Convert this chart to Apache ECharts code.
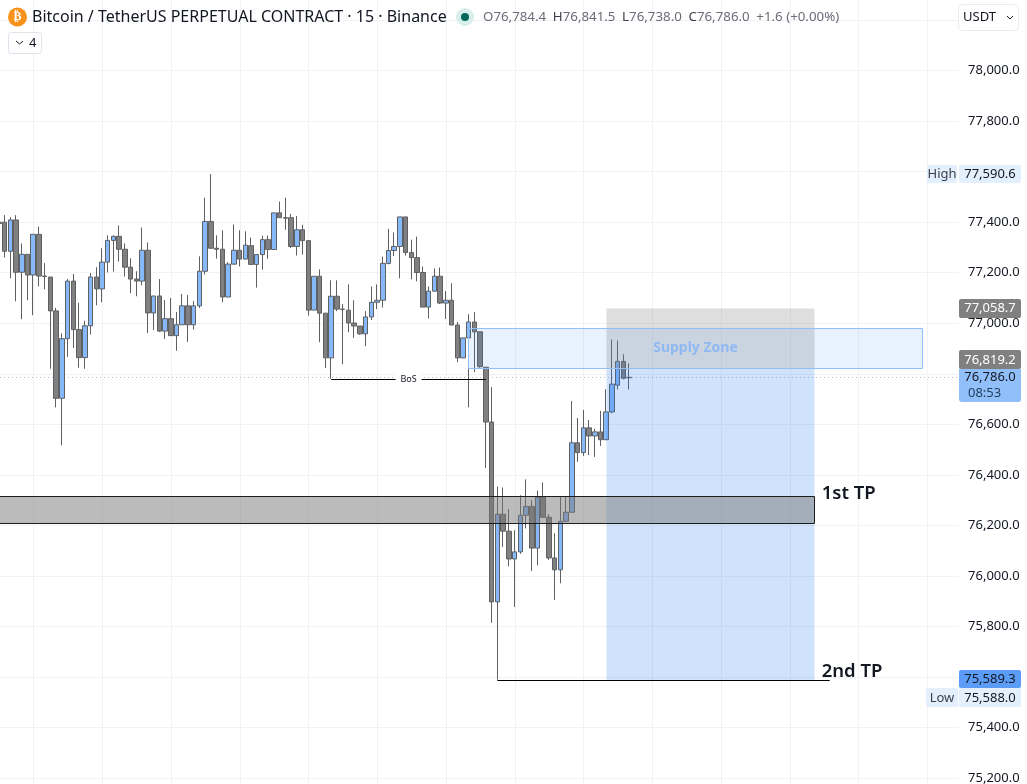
<!DOCTYPE html>
<html><head><meta charset="utf-8">
<style>html,body{margin:0;padding:0;background:#fff}#c{width:1027px;height:784px}</style>
<script src="https://cdn.jsdelivr.net/npm/echarts@6/dist/echarts.min.js"></script>
</head><body><div id="c"></div>
<script>
const opens=[77400,77400,77285,77409,77202,77273,77191,77352,77187,77183,77049,76703,76939,77167,76975,76864,76990,77183,77136,77242,77328,77344,77293,77222,77175,77167,77289,77041,77108,76969,77018,76951,76994,77069,76994,77069,77206,77403,77297,77293,77104,77234,77289,77254,77307,77233,77272,77331,77292,77437,77418,77418,77304,77370,77327,77052,77186,77040,76863,77107,77056,77052,77001,76989,76958,77025,77083,77091,77237,77288,77304,77421,77280,77260,77201,77064,77127,77186,77080,77091,76993,76863,76942,77005,76966,76826,76609,75897,76244,76177,76067,76095,76240,76275,76110,76311,76232,76071,76024,76216,76252,76527,76488,76586,76554,76570,76539,76649,76755,76849,76784.4];
const closes=[77395,77285,77409,77202,77273,77191,77352,77187,77185,77049,76703,76939,77167,76975,76864,76990,77183,77136,77242,77328,77344,77293,77222,77175,77167,77289,77041,77108,76969,77018,76951,76994,77069,76994,77069,77206,77403,77297,77293,77104,77234,77289,77254,77309,77233,77272,77331,77292,77437,77418,77416,77304,77370,77327,77052,77186,77040,76863,77107,77056,77055,77001,76989,76958,77025,77083,77091,77237,77288,77304,77421,77280,77260,77201,77064,77127,77186,77080,77091,76993,76863,76942,77005,76966,76828,76609,75897,76244,76177,76067,76095,76240,76275,76110,76311,76232,76071,76024,76216,76252,76527,76488,76586,76554,76570,76539,76649,76759,76849,76782,76786];
const highs=[77470,77428,77420,77428,77316,77273,77352,77383,77238,77183,77061,76960,77175,77195,77081,77010,77199,77222,77297,77348,77348,77387,77316,77257,77206,77379,77320,77108,77175,77092,77100,77045,77116,77112,77088,77265,77497,77590.6,77348,77368,77242,77391,77368,77364,77339,77272,77347,77347,77437,77482,77497,77433,77425,77390,77327,77186,77213,77040,77170,77170,77076,77154,77091,76989,77048,77146,77154,77264,77374,77359,77421,77421,77331,77343,77225,77146,77217,77221,77127,77158,77005,76942,77036,77044,76966,76826,76747,76354,76350,76264,76181,76319,76382,76299,76338,76370,76244,76169,76313,76313,76692,76625,76657,76617,76582,76653,76739,76936,76932,76877,76841.5];
const lows=[77395,77260,77178,77087,77016,77091,77032,77146,77134,76820,76667,76517,76867,76902,76824,76820,76955,77071,77083,77201,77205,77244,77185,77119,77107,77150,76961,76973,76965,76938,76951,76891,76994,76926,76975,77060,77193,77297,77256,77083,77104,77234,77225,77254,77233,77141,77212,77255,77292,77418,77370,77298,77268,77272,77030,77052,76925,76823,76780,77048,76838,76964,76942,76954,76909,77013,77056,77062,77233,77266,77178,77268,77174,77166,77064,77019,77127,77076,77017,76993,76846,76863,76667,76807,76824,76427,75814,75589.3,76114,76038,75877,76087,76188,76019,76042,76232,76063,75905,75971,76212,76252,76451,76475,76478,76471,76514,76539,76644,76738,76778,76738];
const slotCount=168;
const categories=Array.from({length:slotCount},(_,i)=>String(i));
const verticalGridSlots=[6,18,30,42,54,66,78,90,102,114,126,138,150,162];
const lastPrice=76786.0, stopPrice=77058.7, entryPrice=76819.2, targetPrice=75589.3, highPrice=77590.6, lowPrice=75588.0;
const supplyZone={from:81.9,to:161.2,top:76980,bottom:76820,label:'Supply Zone'};
const positionSpan={from:105.95,to:142.3};
const tpBand={from:0,to:142.3,top:76315,bottom:76208};
const bosLine={from:58,to:85,price:76780,label:'BoS'};
const tp2Line={from:87,to:145,price:targetPrice};
const tpLabels=[{slot:143.6,price:76326,text:'1st TP'},{slot:143.6,price:75621,text:'2nd TP'}];

const FONT='"Noto Sans",sans-serif';
const candles=opens.map((o,i)=>[o,closes[i],lows[i],highs[i]]);
function xAt(api,s){const f=Math.floor(s);return api.coord([f,0])[0]+(s-f)*api.size([1,0])[0];}
function rectShape(api,from,to,top,bottom){
  const x0=xAt(api,from),x1=xAt(api,to),y0=api.coord([0,top])[1],y1=api.coord([0,bottom])[1];
  return {x:Math.round(x0)+.5,y:Math.round(y0)+.5,width:Math.round(x1-x0),height:Math.round(y1-y0)};
}
function overlay(z,render){return {type:'custom',coordinateSystem:'cartesian2d',silent:true,z:z,clip:true,data:[[0,75000]],renderItem:render,animation:false};}

const chart=echarts.init(document.getElementById('c'),null,{renderer:'canvas'});
chart.setOption({
  animation:false,backgroundColor:'#ffffff',
  grid:{left:-4,width:962.64,top:-30.4,height:858.9,containLabel:false,outerBoundsMode:'none'},
  xAxis:{type:'category',data:categories,axisLine:{show:false},axisTick:{show:false},axisLabel:{show:false},splitLine:{show:false}},
  yAxis:{type:'value',position:'right',min:75000,max:78400,interval:200,scale:true,
    axisLine:{show:false},axisTick:{show:false},
    axisLabel:{align:'right',margin:61,color:'#131722',fontFamily:FONT,fontSize:13,
      formatter:v=>v.toLocaleString('en-US',{minimumFractionDigits:1,maximumFractionDigits:1})},
    splitLine:{show:true,lineStyle:{color:'#f1f2f4',width:1}}},
  series:[
    {type:'custom',coordinateSystem:'cartesian2d',silent:true,z:1,data:verticalGridSlots.map(s=>[s,75000]),
      renderItem:(p,api)=>{const x=Math.round(api.coord([api.value(0),0])[0])+.5;
        return {type:'line',shape:{x1:x,y1:0,x2:x,y2:784},style:{stroke:'#f1f2f4',lineWidth:1}};}},
    overlay(1.5,(p,api)=>{const y=Math.round(api.coord([0,lastPrice])[1])+.5;
      return {type:'line',shape:{x1:0,y1:y,x2:957,y2:y},style:{stroke:'#a9b8d8',lineWidth:1,lineDash:[1,3]}};}),
    {type:'candlestick',data:candles,barWidth:5,z:2,silent:true,
      itemStyle:{color:'#86b9f9',color0:'#808080',borderColor:'#5e6063',borderColor0:'#5e6063',borderWidth:1}},
    overlay(5,(p,api)=>({type:'rect',shape:rectShape(api,positionSpan.from,positionSpan.to,stopPrice,entryPrice),style:{fill:'rgba(128,128,128,0.26)'}})),
    overlay(5,(p,api)=>({type:'rect',shape:rectShape(api,positionSpan.from,positionSpan.to,entryPrice,targetPrice),style:{fill:'rgba(33,119,243,0.21)'}})),
    overlay(6,(p,api)=>({type:'rect',shape:rectShape(api,tpBand.from,tpBand.to,tpBand.top,tpBand.bottom),style:{fill:'rgba(120,120,120,0.5)',stroke:'#1c1c1c',lineWidth:1}})),
    overlay(7,(p,api)=>{const s=rectShape(api,supplyZone.from,supplyZone.to,supplyZone.top,supplyZone.bottom);
      return {type:'group',children:[
        {type:'rect',shape:s,style:{fill:'rgba(33,119,243,0.1)',stroke:'#90bff9',lineWidth:1}},
        {type:'text',style:{x:s.x+s.width/2,y:s.y+s.height/2,text:supplyZone.label,fill:'#8fb9f2',font:'bold 14px '+FONT,align:'center',verticalAlign:'middle'}}]};}),
    overlay(8,(p,api)=>{const x0=xAt(api,bosLine.from),x1=xAt(api,bosLine.to),y=Math.round(api.coord([0,bosLine.price])[1])+.5,m=(x0+x1)/2;
      return {type:'group',children:[
        {type:'line',shape:{x1:x0,y1:y,x2:x1,y2:y},style:{stroke:'#000',lineWidth:1}},
        {type:'rect',shape:{x:m-13,y:y-6,width:26,height:12},style:{fill:'#fff'}},
        {type:'text',style:{x:m,y:y,text:bosLine.label,fill:'#131722',font:'9px '+FONT,align:'center',verticalAlign:'middle'}}]};}),
    overlay(8,(p,api)=>{const x0=xAt(api,tp2Line.from),x1=xAt(api,tp2Line.to),y=Math.round(api.coord([0,tp2Line.price])[1])+.5;
      return {type:'line',shape:{x1:x0,y1:y,x2:x1,y2:y},style:{stroke:'#000',lineWidth:1}};}),
    overlay(9,(p,api)=>({type:'group',children:tpLabels.map(t=>({type:'text',style:{x:xAt(api,t.slot),y:api.coord([0,t.price])[1],text:t.text,fill:'#131722',font:'600 18.5px '+FONT,align:'left',verticalAlign:'middle'}}))}))
  ]
});

const yOf=p=>chart.convertToPixel({yAxisIndex:0},p);
function tag(x,w,yc,h,bg,text,fg){
  return [{type:'rect',z:50,shape:{x:x,y:Math.round(yc-h/2),width:w,height:h,r:2},style:{fill:bg}},
          {type:'text',z:51,style:{x:x+w/2,y:Math.round(yc),text:text,fill:fg,font:'13px '+FONT,align:'center',verticalAlign:'middle'}}];
}
const fmt=v=>v.toLocaleString('en-US',{minimumFractionDigits:1,maximumFractionDigits:1});
const g=[
  ...tag(927,30,yOf(highPrice),18,'#e3effd','High','#3a3e4a'),
  ...tag(959,62,yOf(highPrice),18,'#e3effd',fmt(highPrice),'#131722'),
  ...tag(959,62,yOf(stopPrice),19,'#808080',fmt(stopPrice),'#ffffff'),
  ...tag(959,62,yOf(entryPrice)-9,19,'#808080',fmt(entryPrice),'#ffffff'),
  {type:'rect',z:50,shape:{x:959,y:369,width:62,height:33,r:[0,0,3,3]},style:{fill:'#90bff9'}},
  {type:'text',z:51,style:{x:990,y:377,text:fmt(lastPrice),fill:'#131722',font:'13px '+FONT,align:'center',verticalAlign:'middle'}},
  {type:'text',z:51,style:{x:968,y:393,text:'08:53',fill:'#24405f',font:'13px '+FONT,align:'left',verticalAlign:'middle'}},
  ...tag(959,62,yOf(targetPrice)-0.5,18,'#5b9cf6',fmt(targetPrice),'#131722'),
  ...tag(926,32,yOf(lowPrice)+18,19,'#e3effd','Low','#3a3e4a'),
  ...tag(959,62,yOf(lowPrice)+18,19,'#e3effd',fmt(lowPrice),'#131722'),
  {type:'circle',z:60,shape:{cx:17.5,cy:17,r:9.5},style:{fill:'#f7931a'}},
  {type:'text',z:61,style:{x:17.5,y:17,text:'\u20BF',fill:'#fff',font:'bold 12px "DejaVu Sans"',align:'center',verticalAlign:'middle'}},
  {type:'text',z:61,style:{x:32,y:17,text:'Bitcoin / TetherUS PERPETUAL CONTRACT · 15 · Binance',fill:'#131722',font:'16px '+FONT,align:'left',verticalAlign:'middle'}},
  {type:'circle',z:60,shape:{cx:465,cy:17,r:9},style:{fill:'#d8eeea'}},
  {type:'circle',z:61,shape:{cx:465,cy:17,r:4},style:{fill:'#00695c'}},
  {type:'text',z:61,style:{x:483,y:17,align:'left',verticalAlign:'middle',
    text:'{v|O76,784.4}  {l|H}{v|76,841.5}  {l|L}{v|76,738.0}  {l|C}{v|76,786.0}  {v|+1.6 (+0.00%)}',
    rich:{l:{fill:'#3e414b',font:'13.3px '+FONT},v:{fill:'#6a6d78',font:'13.3px '+FONT}}}},
  {type:'rect',z:60,shape:{x:8.5,y:32.5,width:33,height:21,r:3},style:{fill:'#fff',stroke:'#e0e3eb',lineWidth:1}},
  {type:'polyline',z:61,shape:{points:[[16,41],[19.5,44],[23,41]]},style:{fill:'none',stroke:'#131722',lineWidth:1}},
  {type:'text',z:61,style:{x:29,y:43,text:'4',fill:'#131722',font:'13px '+FONT,align:'left',verticalAlign:'middle'}},
  {type:'rect',z:60,shape:{x:958.5,y:4.5,width:60,height:26,r:4},style:{fill:'#fff',stroke:'#e9ebf0',lineWidth:1}},
  {type:'text',z:61,style:{x:963,y:17,text:'USDT',fill:'#131722',font:'13px '+FONT,align:'left',verticalAlign:'middle'}},
  {type:'polyline',z:61,shape:{points:[[1007,16],[1010,19],[1013,16]]},style:{fill:'none',stroke:'#131722',lineWidth:1}}
];
chart.setOption({graphic:{elements:g}});
</script></body></html>
